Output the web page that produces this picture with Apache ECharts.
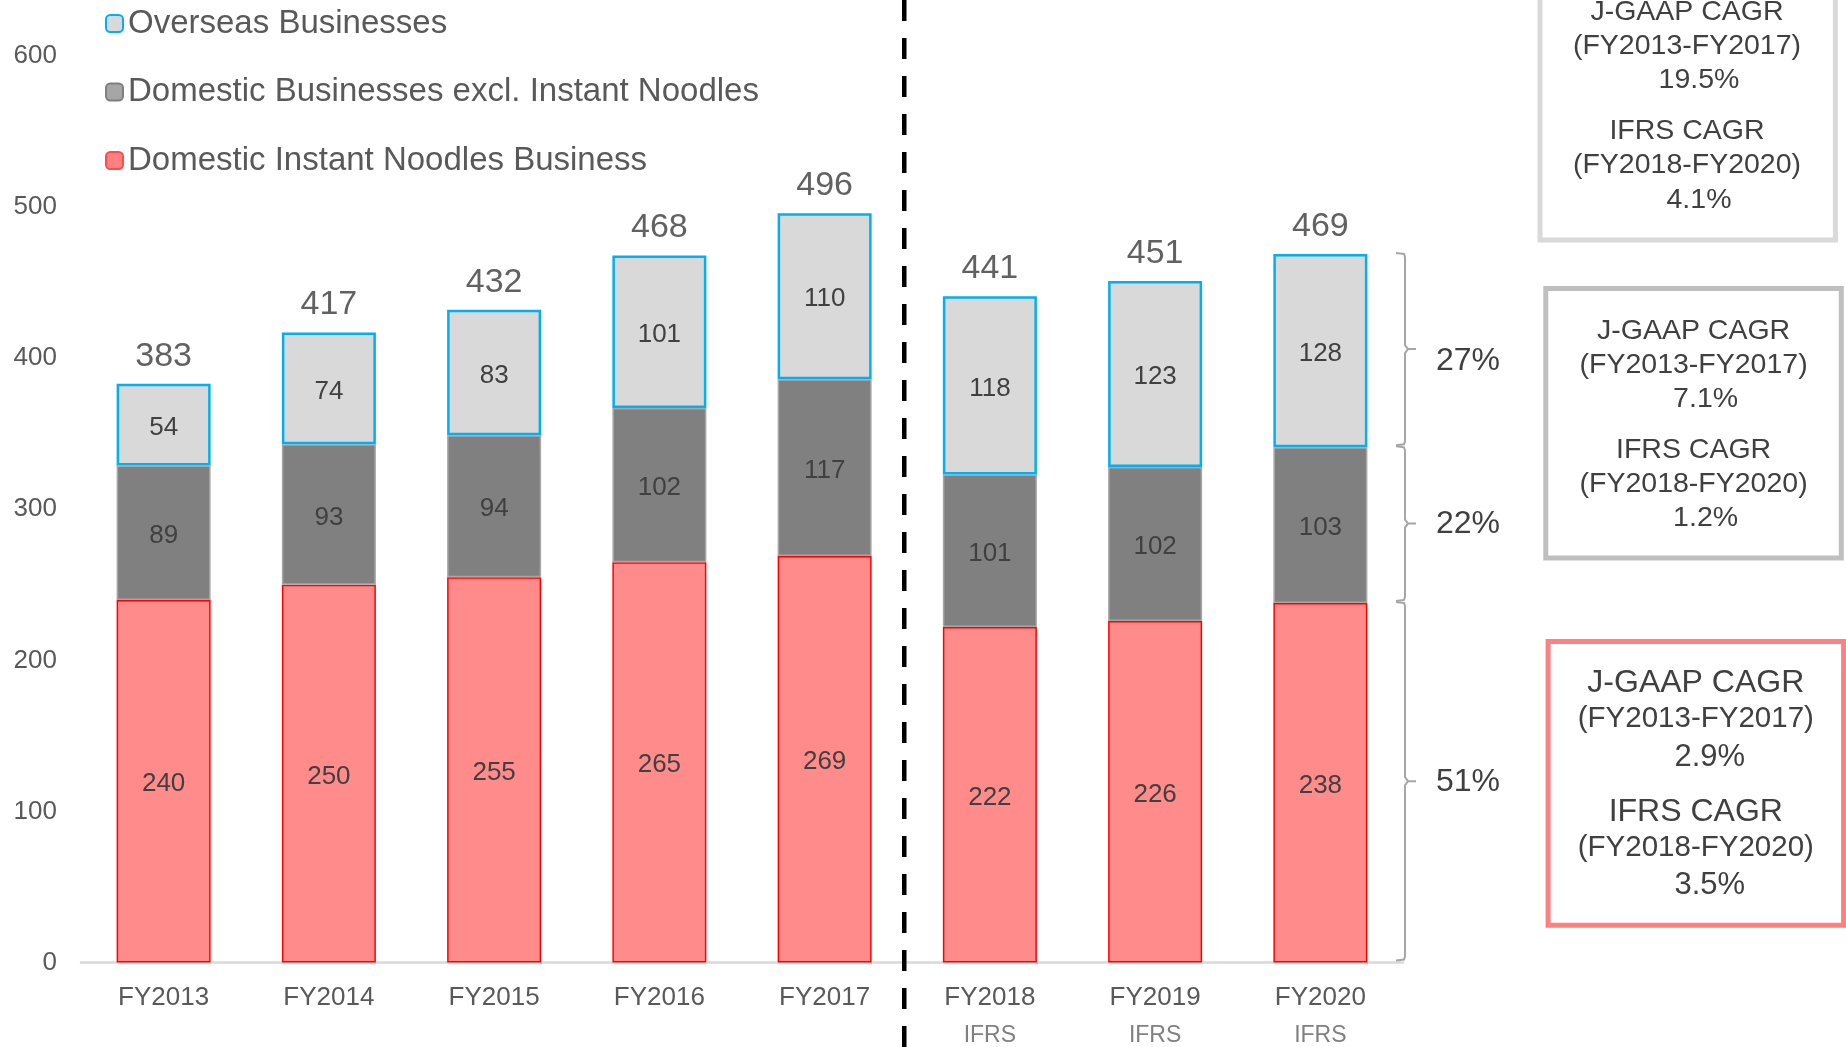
<!DOCTYPE html>
<html>
<head>
<meta charset="utf-8">
<script src="https://cdn.jsdelivr.net/npm/echarts@6/dist/echarts.min.js"></script>
<style>
html,body{margin:0;padding:0;background:#fff;}
#chart{width:1846px;height:1047px;}
</style>
</head>
<body>
<div id="chart"></div>
<script>
// ---- data ----
const categories = ['FY2013','FY2014','FY2015','FY2016','FY2017','FY2018','FY2019','FY2020'];
const subLabels = ['','','','','','IFRS','IFRS','IFRS'];
const noodles = [240,250,255,265,269,222,226,238];
const domesticExcl = [89,93,94,102,117,101,102,103];
const overseas = [54,74,83,101,110,118,123,128];
const totals = [383,417,432,468,496,441,451,469];
const shareLabels = ['51%','22%','27%'];
const seriesNames = ['Overseas Businesses','Domestic Businesses excl. Instant Noodles','Domestic Instant Noodles Business'];
const cagrHeads = ['J-GAAP CAGR','(FY2013-FY2017)','IFRS CAGR','(FY2018-FY2020)'];
const cagrOverseas = ['19.5%','4.1%'];
const cagrDomesticExcl = ['7.1%','1.2%'];
const cagrNoodles = ['2.9%','3.5%'];

const FONT = '"Liberation Sans", Arial, sans-serif';
const last = categories.length - 1;
const bracketData = [
  [last, 0, noodles[last], shareLabels[0]],
  [last, noodles[last], noodles[last] + domesticExcl[last], shareLabels[1]],
  [last, noodles[last] + domesticExcl[last], totals[last], shareLabels[2]]
];

const chart = echarts.init(document.getElementById('chart'), null, {renderer:'canvas'});

function box(cx, rect, stroke, lines, pcts, sizes, pctDx){
  const children = [{
    type:'rect', shape:{x:rect[0], y:rect[1], width:rect[2]-rect[0], height:rect[3]-rect[1]},
    style:{fill:'#fff', stroke:stroke, lineWidth:5}
  }];
  const texts = [cagrHeads[0], cagrHeads[1], pcts[0], cagrHeads[2], cagrHeads[3], pcts[1]];
  texts.forEach((t, i) => {
    const isPct = (i === 2 || i === 5);
    children.push({
      type:'text', x: cx + (isPct ? pctDx : 0), y: lines[i],
      style:{text:t, fill:'#404040', font: sizes[i % 3] + 'px ' + FONT, align:'center', verticalAlign:'middle'}
    });
  });
  return {type:'group', children};
}

const inLabel = {show:true, position:'inside', offset:[0,3], fontSize:26, color:'#404040', fontFamily:FONT};

const option = {
  animation:false,
  backgroundColor:'#fff',
  textStyle:{fontFamily:FONT},
  grid:{left:81, right:443, top:56, bottom:79, containLabel:false},
  legend:{
    orient:'vertical', left:100, top:2, itemWidth:17, itemHeight:17, itemGap:35.5,
    textStyle:{fontSize:33, color:'#595959', fontFamily:FONT},
    data:[
      {name:seriesNames[0], itemStyle:{color:'#D9D9D9', borderColor:'#00B0F0', borderWidth:2}},
      {name:seriesNames[1], itemStyle:{color:'#A6A6A6', borderColor:'#7F7F7F', borderWidth:2}},
      {name:seriesNames[2], itemStyle:{color:'#FF8080', borderColor:'#FF4B4B', borderWidth:2}}
    ]
  },
  xAxis:{
    type:'category', data:categories,
    axisLine:{show:true, lineStyle:{color:'#D9D9D9', width:2.5}},
    axisTick:{show:false},
    axisLabel:{
      margin:17, interval:0,
      formatter:(v, i) => '{a|' + v + '}\n{b|' + (subLabels[i] || ' ') + '}',
      rich:{
        a:{fontSize:26, color:'#595959', lineHeight:36, fontFamily:FONT},
        b:{fontSize:23, color:'#808080', lineHeight:40, fontFamily:FONT}
      }
    }
  },
  yAxis:{
    type:'value', min:0, max:600, interval:100,
    axisLine:{show:false}, axisTick:{show:false}, splitLine:{show:false},
    axisLabel:{fontSize:26, color:'#595959', margin:24, fontFamily:FONT}
  },
  series:[
    {
      name:seriesNames[2], type:'bar', stack:'s', barWidth:94, data:noodles,
      itemStyle:{color:'#FF8B8B', borderColor:'#FF0000', borderWidth:1.5},
      label:inLabel
    },
    {
      name:seriesNames[1], type:'bar', stack:'s', barWidth:94, data:domesticExcl,
      itemStyle:{color:'#808080', borderColor:'#A6A6A6', borderWidth:1.5},
      label:inLabel
    },
    {
      name:seriesNames[0], type:'bar', stack:'s', barWidth:94, data:overseas,
      itemStyle:{color:'#D9D9D9', borderColor:'#00B0F0', borderWidth:2.5},
      label:inLabel
    },
    {
      name:'Total', type:'scatter', data:totals, symbolSize:1, z:5,
      itemStyle:{color:'rgba(0,0,0,0)'},
      label:{show:true, position:'top', distance:10, fontSize:34, color:'#3A3A3A', fontFamily:FONT},
      tooltip:{show:false}
    },
    {
      name:'Share', type:'custom', data:bracketData, clip:false, z:6,
      encode:{x:0, y:[1,2]},
      renderItem:(params, api) => {
        const idx = api.value(0);
        const pTop = api.coord([idx, api.value(2)]);
        const pBot = api.coord([idx, api.value(1)]);
        const band = api.size([1, 0])[0];
        const x = pTop[0] + band / 2 + 2;
        const y1 = pTop[1] - 1, y2 = pBot[1] - 2;
        const ym = (y1 + y2) / 2;
        const dy = params.dataIndex === 2 ? 12 : 1;
        return {
          type:'group',
          children:[
            {type:'polyline', shape:{points:[[x-9,y1],[x-1,y1+1],[x,y1+4],[x,ym-4],[x+3,ym],[x+11,ym],[x+3,ym],[x,ym+4],[x,y2-4],[x-1,y2-1],[x-9,y2]]},
             style:{stroke:'#A6A6A6', lineWidth:2, fill:null}},
            {type:'text', x:x+63, y:ym+dy, style:{text:bracketData[params.dataIndex][3], fill:'#404040', font:'32px ' + FONT, align:'center', verticalAlign:'middle'}}
          ]
        };
      }
    }
  ]
};
chart.setOption(option);

// vertical dashed divider between J-GAAP and IFRS periods, placed from the category axis
const xa = chart.convertToPixel({xAxisIndex:0}, categories[4]);
const xb = chart.convertToPixel({xAxisIndex:0}, categories[5]);
const divX = (xa + xb) / 2 - 3;
chart.setOption({
  graphic:[
    {type:'line', shape:{x1:divX, y1:0, x2:divX, y2:1047}, style:{stroke:'#000', lineWidth:4.5, lineDash:[21,17]}, z:10},
    box(1687, [1540,-60,1835.4,240], '#D9D9D9', [11.8,45.9,80,130.7,164.8,200], cagrOverseas, [28.5,28.5,28.5], 12),
    box(1693.6, [1545.8,288.4,1841.3,558], '#BFBFBF', [330.8,365,399,449.7,483.9,518], cagrDomesticExcl, [28.5,28.5,28.5], 12),
    box(1695.8, [1548.1,641.6,1843.6,925.3], '#FF8080', [682.8,719.3,757,812.3,847.6,885.3], cagrNoodles, [32,29.5,31], 14)
  ]
});
</script>
</body>
</html>
